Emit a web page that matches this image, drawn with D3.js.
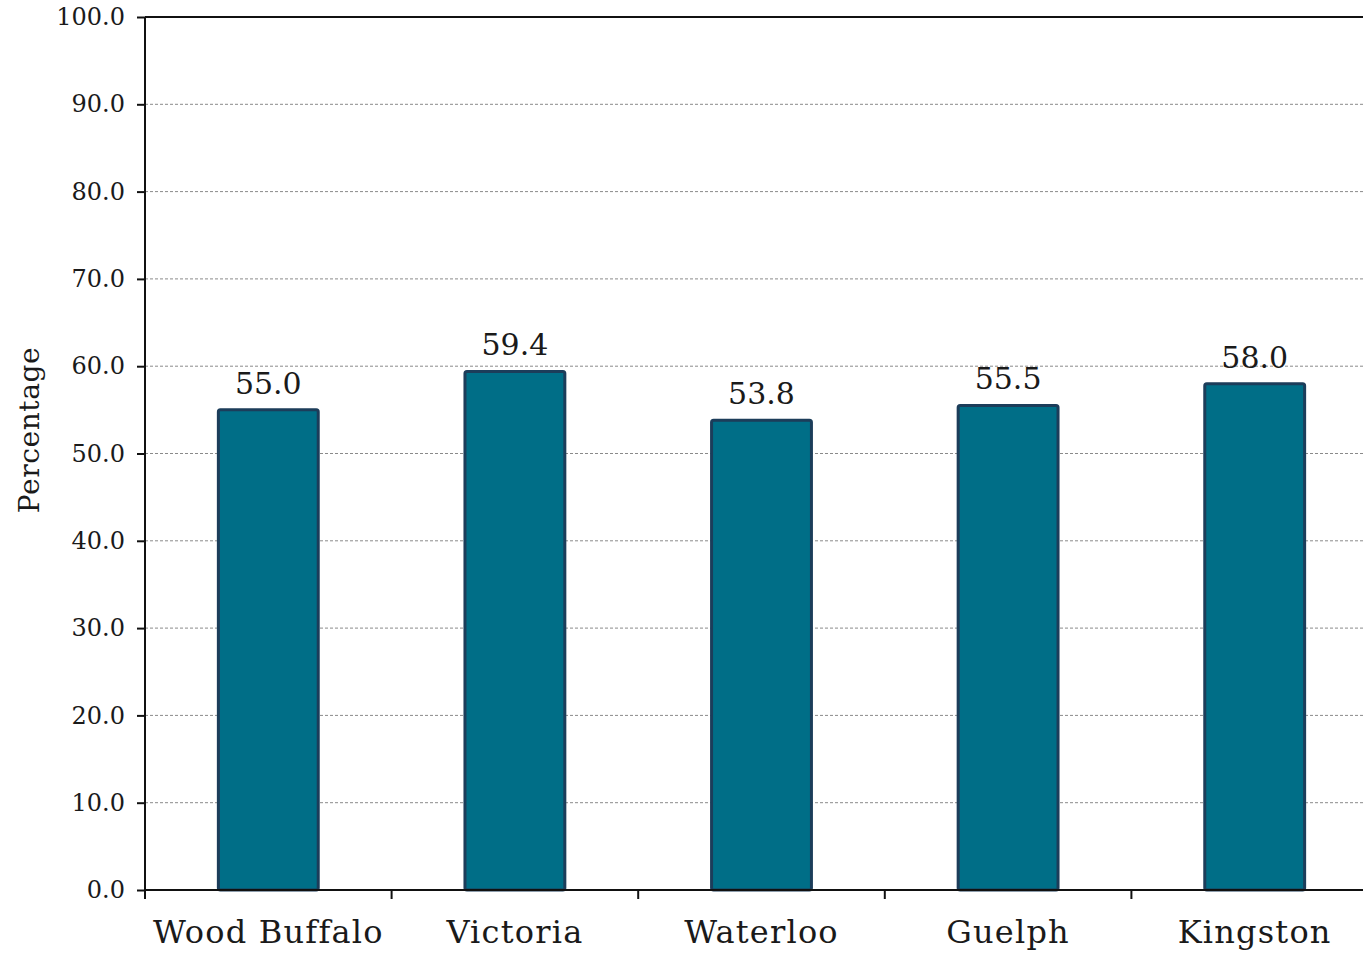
<!DOCTYPE html>
<html>
<head>
<meta charset="utf-8">
<script src="https://cdn.jsdelivr.net/npm/d3@7"></script>
<style>
  html, body { margin: 0; padding: 0; background: #fff; }
  svg { display: block; }
</style>
</head>
<body>
<svg id="chart" width="1363" height="953"></svg>
<script>
// Share of population by city (percentage)
const categories = ["Wood Buffalo", "Victoria", "Waterloo", "Guelph", "Kingston"];
const values = [55.0, 59.4, 53.8, 55.5, 58.0];
const yTicks = [0, 10, 20, 30, 40, 50, 60, 70, 80, 90, 100];

const svg = d3.select("#chart");
const font = "'DejaVu Serif', serif";
const plotLeft = 145, plotRight = 1378, plotTop = 17, plotBottom = 890;

const x = d3.scaleBand().domain(categories).range([plotLeft, plotRight]).paddingInner(0).paddingOuter(0);
const y = d3.scaleLinear().domain([0, 100]).range([plotBottom, plotTop]);
const barW = x.bandwidth() * 0.405;

// dashed gridlines
svg.append("g").selectAll("line")
  .data(yTicks.filter(t => t > 0 && t < 100))
  .join("line")
  .attr("x1", plotLeft).attr("x2", plotRight)
  .attr("y1", d => y(d)).attr("y2", d => y(d))
  .attr("stroke", "#8a8a8a").attr("stroke-width", 1)
  .attr("stroke-dasharray", "3,2");

// top border of the plot
svg.append("line")
  .attr("x1", plotLeft).attr("x2", plotRight)
  .attr("y1", y(100)).attr("y2", y(100))
  .attr("stroke", "#111").attr("stroke-width", 2);

// bars
svg.append("g").selectAll("rect")
  .data(values)
  .join("rect")
  .attr("x", (d, i) => x(categories[i]) + x.bandwidth() / 2 - barW / 2)
  .attr("y", d => y(d))
  .attr("width", barW)
  .attr("height", d => y(0) - y(d))
  .attr("rx", 2)
  .attr("fill", "#006e87")
  .attr("stroke", "#1c3d5a")
  .attr("stroke-width", 3);

// value labels
svg.append("g").selectAll("text")
  .data(values)
  .join("text")
  .attr("x", (d, i) => x(categories[i]) + x.bandwidth() / 2)
  .attr("y", d => y(d) - 16)
  .attr("text-anchor", "middle")
  .attr("font-family", font)
  .attr("font-size", 30)
  .attr("fill", "#1a1a1a")
  .text(d => d3.format(".1f")(d));

// y axis
const yAxis = d3.axisLeft(y).tickValues(yTicks).tickFormat(d3.format(".1f")).tickSize(8).tickPadding(12);
const gy = svg.append("g").attr("transform", `translate(${plotLeft},0)`).call(yAxis);
gy.select(".domain").attr("stroke", "#111").attr("stroke-width", 2).attr("d", `M0,${plotTop}V${plotBottom}`);
gy.selectAll(".tick line").attr("stroke", "#111").attr("stroke-width", 2);
gy.selectAll(".tick text").attr("font-family", font).attr("font-size", 24).attr("fill", "#1a1a1a");

// x axis with ticks at category boundaries
const gx = svg.append("g").attr("transform", `translate(0,${plotBottom})`);
gx.append("line").attr("x1", plotLeft).attr("x2", plotRight).attr("stroke", "#111").attr("stroke-width", 2);
gx.selectAll("line.tk")
  .data(categories)
  .join("line").attr("class", "tk")
  .attr("x1", d => x(d)).attr("x2", d => x(d))
  .attr("y1", 0).attr("y2", 9)
  .attr("stroke", "#111").attr("stroke-width", 2);
gx.selectAll("text")
  .data(categories)
  .join("text")
  .attr("x", d => x(d) + x.bandwidth() / 2)
  .attr("y", 53)
  .attr("text-anchor", "middle")
  .attr("font-family", font)
  .attr("font-size", 32)
  .attr("letter-spacing", 1.2)
  .attr("fill", "#1a1a1a")
  .text(d => d);

// y axis title
svg.append("text")
  .attr("transform", "translate(39,430) rotate(-90)")
  .attr("text-anchor", "middle")
  .attr("font-family", font)
  .attr("font-size", 28)
  .attr("letter-spacing", 0.6)
  .attr("fill", "#1a1a1a")
  .text("Percentage");
</script>
</body>
</html>
